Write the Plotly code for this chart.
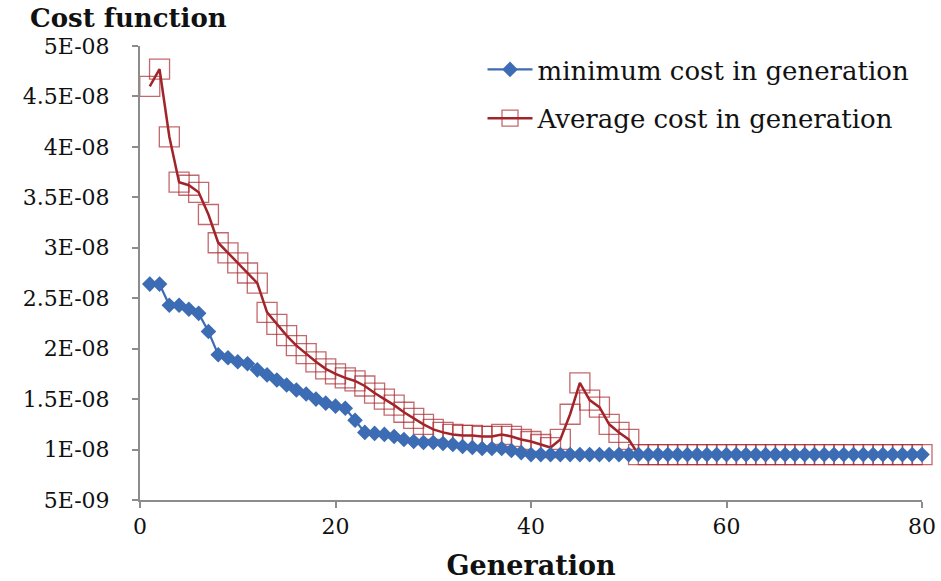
import plotly.graph_objects as go

# Generation numbers
generations = list(range(1, 81))

# Minimum cost found in each generation
min_cost = [
    2.64e-8, 2.64e-8, 2.43e-8, 2.43e-8, 2.39e-8, 2.35e-8, 2.17e-8, 1.94e-8, 1.91e-8, 1.87e-8,
    1.85e-8, 1.79e-8, 1.74e-8, 1.69e-8, 1.64e-8, 1.59e-8, 1.55e-8, 1.50e-8, 1.46e-8, 1.43e-8,
    1.41e-8, 1.29e-8, 1.17e-8, 1.16e-8, 1.15e-8, 1.13e-8, 1.10e-8, 1.08e-8, 1.07e-8, 1.07e-8,
    1.06e-8, 1.05e-8, 1.03e-8, 1.02e-8, 1.01e-8, 1.01e-8, 1.01e-8, 0.99e-8, 0.97e-8, 0.95e-8,
    0.95e-8, 0.95e-8, 0.95e-8, 0.95e-8, 0.95e-8, 0.95e-8, 0.95e-8, 0.95e-8, 0.95e-8, 0.95e-8,
    0.95e-8, 0.95e-8, 0.95e-8, 0.95e-8, 0.95e-8, 0.95e-8, 0.95e-8, 0.95e-8, 0.95e-8, 0.95e-8,
    0.95e-8, 0.95e-8, 0.95e-8, 0.95e-8, 0.95e-8, 0.95e-8, 0.95e-8, 0.95e-8, 0.95e-8, 0.95e-8,
    0.95e-8, 0.95e-8, 0.95e-8, 0.95e-8, 0.95e-8, 0.95e-8, 0.95e-8, 0.95e-8, 0.95e-8, 0.95e-8,
]

# Average cost of the population in each generation
avg_cost = [
    4.60e-8, 4.77e-8, 4.10e-8, 3.65e-8, 3.62e-8, 3.55e-8, 3.33e-8, 3.05e-8, 2.95e-8, 2.85e-8,
    2.75e-8, 2.65e-8, 2.36e-8, 2.24e-8, 2.13e-8, 2.03e-8, 1.95e-8, 1.87e-8, 1.80e-8, 1.75e-8,
    1.71e-8, 1.68e-8, 1.63e-8, 1.56e-8, 1.50e-8, 1.44e-8, 1.37e-8, 1.31e-8, 1.25e-8, 1.20e-8,
    1.17e-8, 1.15e-8, 1.14e-8, 1.14e-8, 1.13e-8, 1.13e-8, 1.15e-8, 1.13e-8, 1.10e-8, 1.08e-8,
    1.05e-8, 1.02e-8, 1.10e-8, 1.35e-8, 1.66e-8, 1.49e-8, 1.42e-8, 1.25e-8, 1.17e-8, 1.10e-8,
    0.95e-8, 0.95e-8, 0.95e-8, 0.95e-8, 0.95e-8, 0.95e-8, 0.95e-8, 0.95e-8, 0.95e-8, 0.95e-8,
    0.95e-8, 0.95e-8, 0.95e-8, 0.95e-8, 0.95e-8, 0.95e-8, 0.95e-8, 0.95e-8, 0.95e-8, 0.95e-8,
    0.95e-8, 0.95e-8, 0.95e-8, 0.95e-8, 0.95e-8, 0.95e-8, 0.95e-8, 0.95e-8, 0.95e-8, 0.95e-8,
]

# Axis ticks
y_tick_vals = [5e-9, 1e-8, 1.5e-8, 2e-8, 2.5e-8, 3e-8, 3.5e-8, 4e-8, 4.5e-8, 5e-8]
y_tick_text = ["5E-09", "1E-08", "1.5E-08", "2E-08", "2.5E-08", "3E-08", "3.5E-08", "4E-08", "4.5E-08", "5E-08"]
x_tick_vals = [0, 20, 40, 60, 80]

FONT = "DejaVu Serif"
BLUE = "#3c6cb4"
RED = "#a0242a"
AXIS = "#8c8c8c"
TEXT = "#111111"

fig = go.Figure()

# Average cost (drawn first so the minimum curve sits on top)
fig.add_trace(go.Scatter(
    x=generations, y=avg_cost,
    name="Average cost in generation",
    mode="lines+markers",
    line=dict(color=RED, width=2.5),
    marker=dict(symbol="square-open", size=20, color="rgba(170,40,45,0.7)",
                line=dict(width=1.3, color="rgba(170,40,45,0.7)")),
    legendgroup="avg", legendrank=2,
    cliponaxis=False,
))

# Minimum cost
fig.add_trace(go.Scatter(
    x=generations, y=min_cost,
    name="minimum cost in generation",
    mode="lines+markers",
    line=dict(color=BLUE, width=2.2),
    marker=dict(symbol="diamond", size=12, color=BLUE),
    legendgroup="min", legendrank=1,
    cliponaxis=False,
))

fig.update_layout(
    width=941, height=581, autosize=False,
    paper_bgcolor="white", plot_bgcolor="white",
    margin=dict(l=140, r=19, t=46, b=81),
    font=dict(family=FONT, color=TEXT, size=21),
    title=dict(text="<b>Cost function</b>", x=30 / 941, xanchor="left",
               y=1 - 18 / 581, yanchor="middle", xref="container", yref="container",
               font=dict(family=FONT, size=26, color=TEXT)),
    legend=dict(x=0.438, xanchor="left", y=1.0, yanchor="top",
                font=dict(family=FONT, size=26, color=TEXT),
                bgcolor="rgba(0,0,0,0)", tracegroupgap=12,
                itemwidth=45),
    showlegend=True,
)

fig.update_xaxes(
    range=[0, 80], tickvals=x_tick_vals, ticks="outside", ticklen=6,
    tickcolor=AXIS, tickwidth=1.5, automargin=False,
    showline=True, linecolor=AXIS, linewidth=2, showgrid=False, zeroline=False,
    tickfont=dict(family=FONT, size=22, color=TEXT),
    title=dict(text="<b>Generation</b>", standoff=24,
               font=dict(family=FONT, size=27, color=TEXT)),
)

fig.update_yaxes(
    range=[5e-9, 5e-8], tickvals=y_tick_vals, ticktext=y_tick_text,
    ticks="outside", ticklen=6, tickcolor=AXIS, tickwidth=1.5, automargin=False,
    showline=True, linecolor=AXIS, linewidth=2, showgrid=False, zeroline=False,
    tickfont=dict(family=FONT, size=22, color=TEXT),
    ticklabelstandoff=18,
)

fig.write_html("out.html")
